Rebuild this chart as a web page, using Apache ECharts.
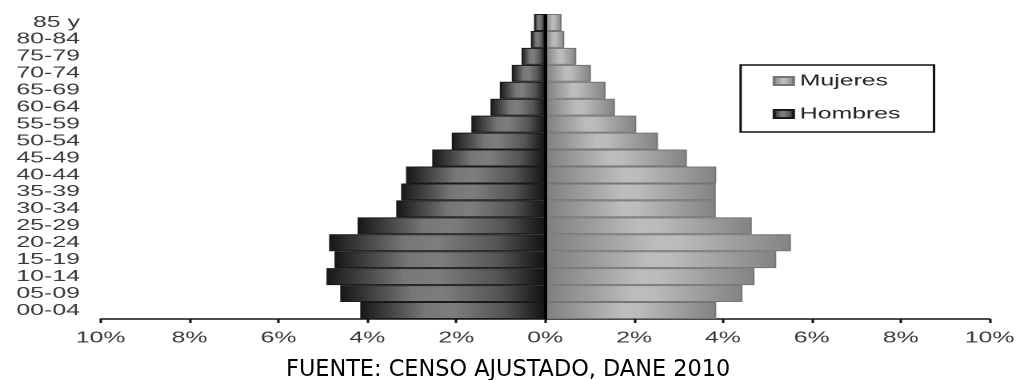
<!DOCTYPE html>
<html>
<head>
<meta charset="utf-8">
<script src="https://cdn.jsdelivr.net/npm/echarts@6/dist/echarts.min.js"></script>
<style>
  html, body { margin: 0; padding: 0; background: #fff; }
  #wrap { position: relative; width: 1019px; height: 380px; overflow: hidden; }
  /* the pyramid is drawn in a narrower box and widened horizontally */
  #chart { position: absolute; left: 0; top: 0; width: 636.875px; height: 380px;
           transform: scaleX(1.6); transform-origin: 0 0; }
  #source { position: absolute; left: 0; top: 0; width: 1019px; height: 380px; pointer-events: none; }
</style>
</head>
<body>
<div id="wrap">
  <div id="chart"></div>
  <div id="source"></div>
</div>
<script>
// Age groups, bottom to top
const categories = ['00-04', '05-09', '10-14', '15-19', '20-24', '25-29', '30-34', '35-39', '40-44',
                    '45-49', '50-54', '55-59', '60-64', '65-69', '70-74', '75-79', '80-84', '85 y'];
// Share of total population (%)
const hombres = [4.16, 4.61, 4.92, 4.74, 4.86, 4.22, 3.35, 3.24, 3.13,
                 2.54, 2.10, 1.66, 1.23, 1.02, 0.75, 0.53, 0.32, 0.25];
const mujeres = [3.85, 4.44, 4.71, 5.20, 5.53, 4.65, 3.84, 3.84, 3.85,
                 3.19, 2.54, 2.05, 1.57, 1.36, 1.03, 0.70, 0.43, 0.37];
const xTicks = { min: -10, max: 10, step: 2 };
const fuente = 'FUENTE: CENSO AJUSTADO, DANE 2010';

const labelFont = 'Liberation Sans, Arial, sans-serif';

const menFill = new echarts.graphic.LinearGradient(0, 0, 1, 0, [
  { offset: 0, color: '#171717' },
  { offset: 0.35, color: '#777777' },
  { offset: 0.5, color: '#7e7e7e' },
  { offset: 0.78, color: '#555555' },
  { offset: 1, color: '#121212' }
]);
const womenFill = new echarts.graphic.LinearGradient(0, 0, 1, 0, [
  { offset: 0, color: '#7e7e7e' },
  { offset: 0.45, color: '#bdbdbd' },
  { offset: 0.55, color: '#bbbbbb' },
  { offset: 1, color: '#838383' }
]);

const chart = echarts.init(document.getElementById('chart'), null, { devicePixelRatio: 2 });
chart.setOption({
  animation: false,
  backgroundColor: 'transparent',
  grid: { left: 62.94, right: 17.1, top: 14, bottom: 61, containLabel: false },
  legend: {
    orient: 'vertical',
    left: 462.9,
    top: 65,
    data: ['Mujeres', 'Hombres'],
    icon: 'rect',
    itemWidth: 12,
    itemHeight: 8,
    itemGap: 17,
    padding: [8, 21, 10, 20],
    borderColor: '#111',
    borderWidth: 1.5,
    borderRadius: 0,
    textStyle: { fontFamily: labelFont, fontSize: 15.5, color: '#222', lineHeight: 16, padding: [0, 0, 0, -1] }
  },
  xAxis: {
    type: 'value',
    min: xTicks.min,
    max: xTicks.max,
    interval: xTicks.step,
    splitLine: { show: false },
    axisLine: { show: true, lineStyle: { color: '#111', width: 1.5 } },
    axisTick: { show: true, length: 4, lineStyle: { color: '#111', width: 1.5 } },
    axisLabel: {
      margin: 11,
      fontFamily: labelFont,
      fontSize: 15.5,
      color: '#383838',
      formatter: v => Math.abs(v) + '%'
    }
  },
  yAxis: {
    type: 'category',
    data: categories,
    axisLine: { show: false },
    axisTick: { show: false },
    axisLabel: { interval: 0, margin: 13, fontFamily: labelFont, fontSize: 15.5, lineHeight: 16, color: '#383838' }
  },
  series: [
    {
      name: 'Hombres',
      type: 'bar',
      stack: 'piramide',
      barCategoryGap: '0%',
      data: hombres.map(v => -v),
      itemStyle: { color: menFill, borderColor: '#1a1a1a', borderWidth: 1 }
    },
    {
      name: 'Mujeres',
      type: 'bar',
      stack: 'piramide',
      barCategoryGap: '0%',
      data: mujeres,
      itemStyle: { color: womenFill, borderColor: '#767676', borderWidth: 1 },
      markLine: {
        silent: true,
        symbol: 'none',
        label: { show: false },
        lineStyle: { color: '#000', width: 2, type: 'solid' },
        data: [{ xAxis: 0 }]
      }
    }
  ]
});

const source = echarts.init(document.getElementById('source'));
source.setOption({
  animation: false,
  backgroundColor: 'transparent',
  title: {
    text: fuente,
    left: 286,
    top: 359,
    padding: 0,
    textStyle: { fontFamily: 'DejaVu Sans, Tahoma, sans-serif', fontSize: 22.4, fontWeight: 'normal', color: '#000' }
  }
});
</script>
</body>
</html>
